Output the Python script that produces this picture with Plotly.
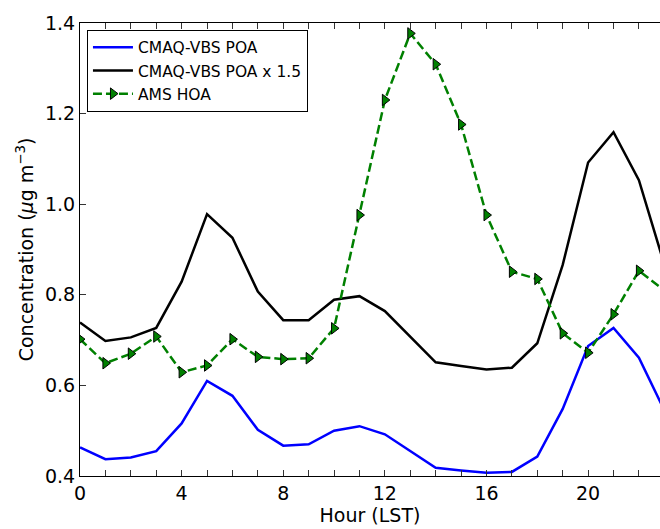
import plotly.graph_objects as go

hours = list(range(24))
cmaq_poa = [0.463, 0.437, 0.441, 0.455, 0.516, 0.610, 0.577, 0.502, 0.467, 0.470,
            0.500, 0.510, 0.492, 0.455, 0.418, 0.412, 0.407, 0.409, 0.443, 0.548,
            0.687, 0.727, 0.661, 0.545]
cmaq_poa_x15 = [0.739, 0.698, 0.706, 0.727, 0.829, 0.978, 0.926, 0.807, 0.744, 0.744,
                0.789, 0.797, 0.764, 0.707, 0.651, 0.643, 0.635, 0.639, 0.693, 0.866,
                1.092, 1.159, 1.053, 0.867]
ams_hoa = [0.702, 0.649, 0.670, 0.708, 0.629, 0.644, 0.702, 0.663, 0.658, 0.660,
           0.726, 0.976, 1.230, 1.377, 1.309, 1.176, 0.976, 0.851, 0.835, 0.715,
           0.672, 0.757, 0.853, 0.810]

FONT = "DejaVu Sans"

fig = go.Figure()
fig.add_trace(go.Scatter(x=hours, y=cmaq_poa, mode="lines", name="CMAQ-VBS POA",
                         line=dict(color="#0000ff", width=2.5)))
fig.add_trace(go.Scatter(x=hours, y=cmaq_poa_x15, mode="lines", name="CMAQ-VBS POA x 1.5",
                         line=dict(color="#000000", width=2.5)))
fig.add_trace(go.Scatter(x=hours, y=ams_hoa, mode="lines+markers", name="AMS HOA",
                         line=dict(color="#008000", width=2.5, dash="9px,4px"),
                         marker=dict(symbol="triangle-right", size=10, color="#008000",
                                     line=dict(color="#000000", width=1))))

fig.update_layout(
    width=660, height=529,
    margin=dict(l=80, r=0, t=23, b=53, autoexpand=False),
    paper_bgcolor="white", plot_bgcolor="white",
    font=dict(family=FONT, color="black", size=19),
    showlegend=True,
    legend=dict(x=0.012, y=0.985, xanchor="left", yanchor="top",
                bordercolor="black", borderwidth=1, bgcolor="white", itemwidth=40,
                font=dict(family=FONT, size=15.5), tracegroupgap=0),
)
fig.update_xaxes(
    range=[0, 22.83], tickmode="array", tickvals=[0, 4, 8, 12, 16, 20],
    ticks="inside", ticklen=6, tickcolor="#333", showgrid=False, zeroline=False,
    showline=True, linecolor="black", linewidth=1.2, mirror="ticks", automargin=False,
    minor=dict(tickmode="linear", tick0=0, dtick=1, ticks="inside", ticklen=6, tickcolor="#333"),
    title=dict(text="Hour (LST)", font=dict(size=19), standoff=2),
    tickfont=dict(size=19),
)
fig.update_yaxes(
    range=[0.4, 1.4], dtick=0.2, tick0=0.4, tickformat=".1f", automargin=False,
    ticks="inside", ticklen=6, tickcolor="#333", showgrid=False, zeroline=False,
    showline=True, linecolor="black", linewidth=1.2,
    title=dict(text="Concentration (<i>μ</i>g m<sup>−3</sup>)", font=dict(size=19), standoff=6),
    tickfont=dict(size=19),
)

fig.write_html("out.html", config={"displayModeBar": False},
               post_script="document.body.style.margin='0';document.body.style.overflow='hidden';")
